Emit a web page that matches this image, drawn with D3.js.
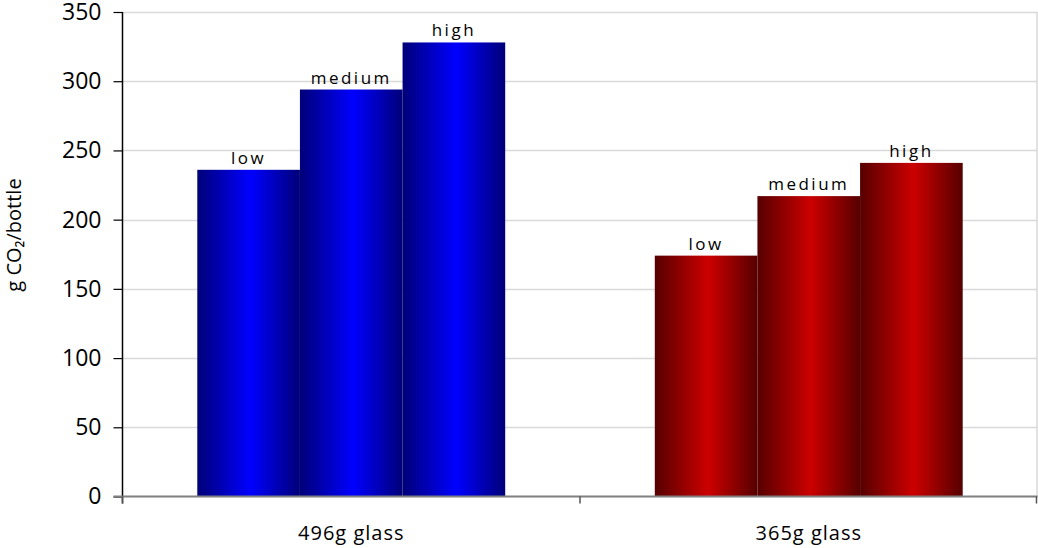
<!DOCTYPE html>
<html>
<head>
<meta charset="utf-8">
<script src="https://cdn.jsdelivr.net/npm/d3@7"></script>
<style>
  html, body { margin: 0; padding: 0; background: #fff; }
  svg { display: block; }
  text { font-family: "Open Sans", "DejaVu Sans", sans-serif; fill: #000; }
</style>
</head>
<body>
<svg id="chart" width="1038" height="548"></svg>
<script>
// Bottle groups and the three scenarios within each group
const categories = ["496g glass", "365g glass"];
const scenarios = ["low", "medium", "high"];
const values496 = [236, 294, 328];
const values365 = [174, 217, 241];
const yTicks = [0, 50, 100, 150, 200, 250, 300, 350];
const yTitle = "g CO\u2082/bottle";

const seriesByCategory = [values496, values365];
const palettes = [
  { dark: "#000078", bright: "#0000ff" },
  { dark: "#560000", bright: "#cc0000" }
];

const W = 1038, H = 548;
const margin = { left: 122.5, right: 0.5, top: 12, bottom: 51.5 };
const svg = d3.select("#chart");

const x0 = d3.scaleBand()
  .domain(categories)
  .range([margin.left, W - margin.right])
  .paddingInner(0.327)
  .paddingOuter(0.1635);

const x1 = d3.scaleBand()
  .domain(scenarios)
  .range([0, x0.bandwidth()]);

const y = d3.scaleLinear()
  .domain([0, 350])
  .range([H - margin.bottom, margin.top]);

// Horizontal gradients giving the bars a cylindrical shading
const defs = svg.append("defs");
palettes.forEach((p, i) => {
  const g = defs.append("linearGradient")
    .attr("id", "grad" + i)
    .attr("x1", "0%").attr("x2", "100%").attr("y1", "0%").attr("y2", "0%");
  g.append("stop").attr("offset", "0%").attr("stop-color", p.dark);
  g.append("stop").attr("offset", "52%").attr("stop-color", p.bright);
  g.append("stop").attr("offset", "100%").attr("stop-color", p.dark);
});

// Gridlines
svg.append("g")
  .selectAll("line")
  .data(yTicks.filter(d => d > 0))
  .join("line")
  .attr("x1", margin.left)
  .attr("x2", W - margin.right)
  .attr("y1", d => Math.round(y(d)) + 0.5)
  .attr("y2", d => Math.round(y(d)) + 0.5)
  .attr("stroke", "#d9d9d9")
  .attr("stroke-width", 1.5);

// Right border of plot area
svg.append("line")
  .attr("x1", W - margin.right - 0.5).attr("x2", W - margin.right - 0.5)
  .attr("y1", y(350)).attr("y2", y(0))
  .attr("stroke", "#d9d9d9").attr("stroke-width", 1.5);

// Bars
const groups = svg.append("g")
  .selectAll("g")
  .data(categories)
  .join("g")
  .attr("transform", d => `translate(${x0(d)},0)`);

groups.each(function (cat, ci) {
  const vals = seriesByCategory[ci];
  const rows = scenarios.map((s, si) => ({ s, v: vals[si] }));
  const g = d3.select(this);
  g.selectAll("rect")
    .data(rows)
    .join("rect")
    .attr("x", d => x1(d.s))
    .attr("width", x1.bandwidth())
    .attr("y", d => y(d.v))
    .attr("height", d => y(0) - y(d.v))
    .attr("fill", `url(#grad${ci})`);
  g.selectAll("text")
    .data(rows)
    .join("text")
    .attr("x", d => x1(d.s) + x1.bandwidth() / 2)
    .attr("y", d => y(d.v) - 6)
    .attr("text-anchor", "middle")
    .style("font-size", "17px")
    .style("letter-spacing", "2.5px")
    .text(d => d.s);
});

// Y axis
const yAxis = svg.append("g")
  .attr("transform", `translate(${margin.left},0)`)
  .call(d3.axisLeft(y).tickValues(yTicks).tickSize(9).tickPadding(12));
yAxis.select(".domain").attr("stroke", "#000").attr("stroke-width", 1.5)
  .attr("d", `M0,${y(350)}V${y(0) + 7}`);
yAxis.selectAll(".tick line").attr("stroke", "#000").attr("stroke-width", 1.2);
yAxis.selectAll(".tick text")
  .style("font-size", "23px")
  .style("font-family", "'Open Sans', sans-serif")
  .attr("fill", "#000");

// X axis
const xAxis = svg.append("g")
  .attr("transform", `translate(0,${y(0)})`);
xAxis.append("line")
  .attr("x1", margin.left - 9).attr("x2", W - margin.right)
  .attr("y1", 0).attr("y2", 0)
  .attr("stroke", "#7f7f7f").attr("stroke-width", 2);
const xTickPos = [margin.left, ...categories.slice(1).map(c => x0(c) - x0.step() * x0.paddingInner() / 2), W - margin.right - 1];
xAxis.selectAll("line.tk")
  .data(xTickPos)
  .join("line")
  .attr("class", "tk")
  .attr("x1", d => d).attr("x2", d => d)
  .attr("y1", 0).attr("y2", 7)
  .attr("stroke", "#555").attr("stroke-width", 1.5);
xAxis.selectAll("text")
  .data(categories)
  .join("text")
  .attr("x", d => x0(d) + x0.bandwidth() / 2)
  .attr("y", 43)
  .attr("text-anchor", "middle")
  .style("font-size", "20px")
  .style("letter-spacing", "1px")
  .text(d => d);

// Y axis title
svg.append("text")
  .attr("transform", `translate(21,235) rotate(-90)`)
  .attr("text-anchor", "middle")
  .style("font-size", "20px")
  .text(yTitle);
</script>
</body>
</html>
